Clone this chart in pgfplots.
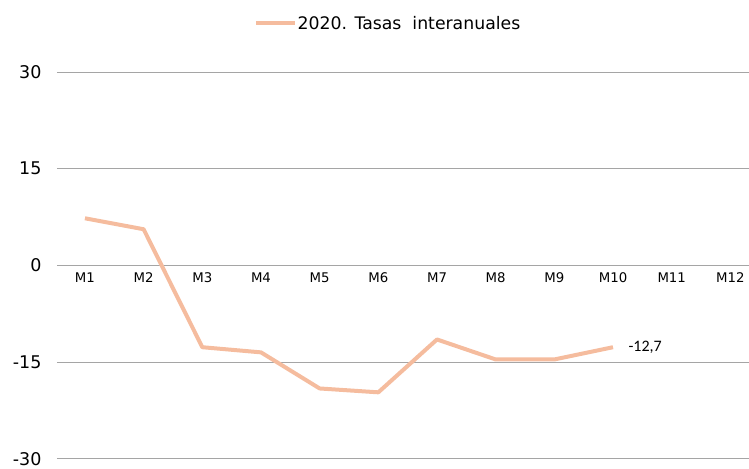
\documentclass[border=0pt]{standalone}
\usepackage{pgfplots}
\pgfplotsset{compat=1.18}
\usepackage{fontspec}
\setmainfont{DejaVu Sans}
\newfontfamily\lblfont{Carlito}
\definecolor{serie}{RGB}{245,188,158}
\definecolor{gridgray}{RGB}{165,165,165}

\begin{document}
\begin{tikzpicture}
\begin{axis}[
    scale only axis,
    width=692pt, height=387pt,
    xmin=0.523, xmax=12.31,
    ymin=-30, ymax=30,
    axis x line=middle,
    axis y line=left,
    axis line style={draw=none},
    major tick length=0pt,
    xtick={1,...,12},
    xticklabels={M1,M2,M3,M4,M5,M6,M7,M8,M9,M10,M11,M12},
    xticklabel style={font=\fontsize{13.3}{15}\selectfont, yshift=-4pt},
    ytick={-30,-15,0,15,30},
    yticklabels={-30,-15,0,15,30},
    yticklabel style={font=\fontsize{17.5}{19}\selectfont, xshift=-12pt},
    ymajorgrids, xmajorgrids=false,
    grid style={gridgray, line width=0.9pt},
    clip=false,
    legend style={at={(axis description cs:0.478,1)}, anchor=south, yshift=40pt,
        draw=none, fill=none, font=\fontsize{17.3}{19}\selectfont,
        inner sep=0pt, nodes={inner sep=1pt},
        /tikz/every even column/.append style={column sep=0pt}},
    legend image code/.code={\draw[#1] (0pt,0pt) -- (39pt,0pt);},
]
\addplot[serie, line width=4pt, line join=round, no markers] coordinates {
    (1,7.3) (2,5.6) (3,-12.7) (4,-13.5) (5,-19.1)
    (6,-19.7) (7,-11.5) (8,-14.6) (9,-14.6) (10,-12.7)
};
\addlegendentry{2020. Tasas\ \ interanuales}
\node[anchor=west, xshift=12pt, font=\lblfont\fontsize{16}{18}\selectfont] at (axis cs:10,-12.7) {-12,7};
\path (rel axis cs:0,0) ++(-57pt,-10pt) rectangle ++(749pt,469pt);
\end{axis}
\end{tikzpicture}
\end{document}
